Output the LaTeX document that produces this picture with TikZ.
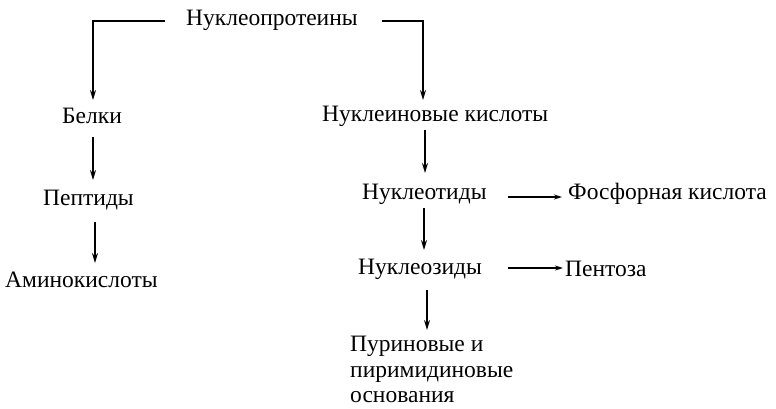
\documentclass[tikz,border=0pt]{standalone}
\usepackage{fontspec}
\setmainfont{Liberation Serif}
\usetikzlibrary{arrows.meta}
\tikzset{
  lbl/.style={inner sep=0pt, anchor=west, font=\fontsize{23.5}{25.5}\selectfont},
  conn/.style={line width=1.5pt, -{Stealth[length=10pt,width=6pt]}},
  sconn/.style={line width=1.5pt, -{Stealth[length=8pt,width=5pt]}}
}
\begin{document}
\begin{tikzpicture}[x=1pt,y=-1pt]
\useasboundingbox[fill=white] (0,0) rectangle (776,408);
\node[lbl] (np) at (186,20) {Нуклеопротеины};
\node[lbl] (bel) at (62,116) {Белки};
\node[lbl] (nk) at (322,116) {Нуклеиновые кислоты};
\node[lbl] (pep) at (43,200) {Пептиды};
\node[lbl] (ak) at (5,280) {Аминокислоты};
\node[lbl] (nt) at (362,194) {Нуклеотиды};
\node[lbl] (fk) at (568,194) {Фосфорная кислота};
\node[lbl] (nz) at (358,269) {Нуклеозиды};
\node[lbl] (pt) at (565,269) {Пентоза};
\node[lbl, align=left, anchor=north west] (pur) at (350,336) {Пуриновые и\\пиримидиновые\\основания};
\coordinate (l1) at (165,21);
\coordinate (l2) at (93,21);
\coordinate (r1) at (382,21);
\coordinate (r2) at (423,21);
\coordinate (belT) at (93,100);
\coordinate (nkT) at (423,100);
\draw[conn] (l1) -- (l2) -- (belT);
\draw[conn] (r1) -- (r2) -- (nkT);
\coordinate (a1s) at (93,137); \coordinate (a1e) at (93,180);
\draw[conn] (a1s) -- (a1e);
\coordinate (a2s) at (95,222); \coordinate (a2e) at (95,263);
\draw[conn] (a2s) -- (a2e);
\coordinate (a3s) at (425,130); \coordinate (a3e) at (425,173);
\draw[conn] (a3s) -- (a3e);
\coordinate (a4s) at (424,208); \coordinate (a4e) at (424,250);
\draw[conn] (a4s) -- (a4e);
\coordinate (a5s) at (427,290); \coordinate (a5e) at (427,330);
\draw[conn] (a5s) -- (a5e);
\coordinate (h1s) at (508,197); \coordinate (h1e) at (562,197);
\draw[sconn] (h1s) -- (h1e);
\coordinate (h2s) at (508,268); \coordinate (h2e) at (563,268);
\draw[sconn] (h2s) -- (h2e);
\end{tikzpicture}
\end{document}
